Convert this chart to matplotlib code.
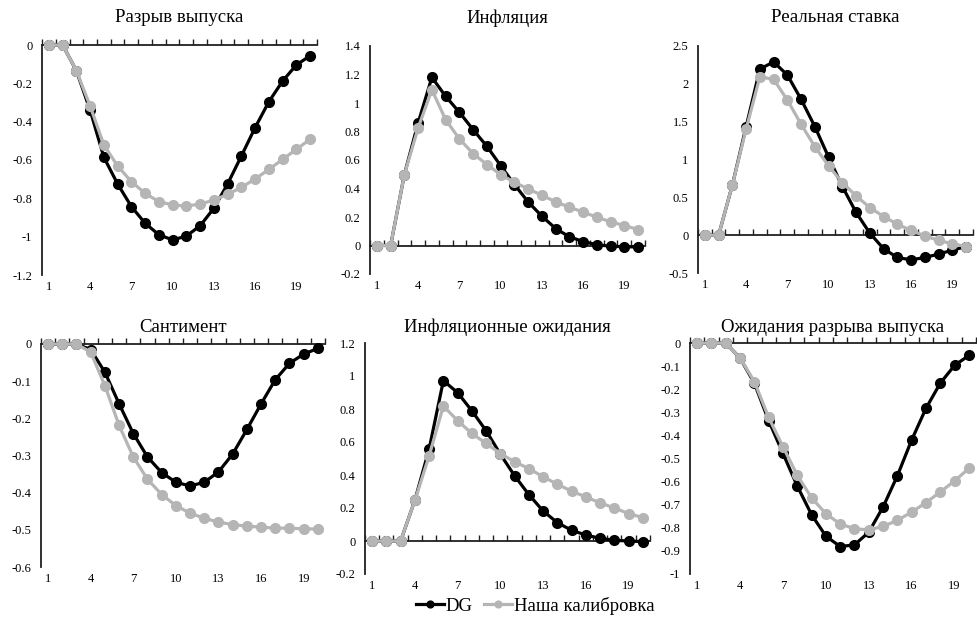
import matplotlib
matplotlib.use("Agg")
import matplotlib.pyplot as plt
import numpy as np

plt.rcParams['font.family'] = ['Liberation Serif', 'DejaVu Serif']

periods = list(range(1, 21))
x_labels = [1, 4, 7, 10, 13, 16, 19]

titles = ["Разрыв выпуска", "Инфляция", "Реальная ставка",
          "Сантимент", "Инфляционные ожидания", "Ожидания разрыва выпуска"]

dg_output_gap = [0, 0, -0.134, -0.34, -0.586, -0.725, -0.843, -0.93, -0.99, -1.017,
                 -0.997, -0.943, -0.852, -0.725, -0.579, -0.431, -0.296, -0.188, -0.104, -0.056]
our_output_gap = [0, 0, -0.134, -0.318, -0.522, -0.631, -0.713, -0.774, -0.817, -0.835,
                  -0.84, -0.83, -0.809, -0.779, -0.743, -0.699, -0.649, -0.597, -0.544, -0.492]

dg_inflation = [0, 0, 0.498, 0.86, 1.18, 1.047, 0.935, 0.813, 0.696, 0.561,
                0.428, 0.306, 0.206, 0.119, 0.061, 0.028, 0.005, -0.005, -0.009, -0.01]
our_inflation = [0, 0, 0.498, 0.825, 1.093, 0.883, 0.748, 0.645, 0.568, 0.498,
                 0.444, 0.397, 0.353, 0.306, 0.269, 0.234, 0.199, 0.166, 0.14, 0.112]

dg_real_rate = [0, 0, 0.664, 1.434, 2.195, 2.29, 2.116, 1.795, 1.434, 1.03,
                0.642, 0.3, 0.026, -0.18, -0.295, -0.326, -0.295, -0.25, -0.198, -0.15]
our_real_rate = [0, 0, 0.664, 1.403, 2.094, 2.059, 1.786, 1.465, 1.17, 0.915,
                 0.695, 0.519, 0.365, 0.246, 0.145, 0.062, -0.009, -0.07, -0.114, -0.15]

dg_sentiment = [0, 0, 0, -0.015, -0.076, -0.161, -0.241, -0.304, -0.346, -0.372,
                -0.382, -0.372, -0.344, -0.296, -0.23, -0.161, -0.096, -0.052, -0.027, -0.012]
our_sentiment = [0, 0, 0, -0.022, -0.112, -0.219, -0.304, -0.364, -0.405, -0.435,
                 -0.455, -0.469, -0.479, -0.486, -0.49, -0.493, -0.495, -0.496, -0.497, -0.498]

dg_infl_exp = [0, 0, 0, 0.247, 0.557, 0.972, 0.899, 0.789, 0.668, 0.526,
               0.395, 0.281, 0.182, 0.111, 0.065, 0.036, 0.016, 0.004, 0.0, -0.004]
our_infl_exp = [0, 0, 0, 0.247, 0.516, 0.818, 0.729, 0.652, 0.591, 0.53,
                0.48, 0.439, 0.389, 0.344, 0.302, 0.267, 0.231, 0.2, 0.166, 0.142]

dg_gap_exp = [0, 0, 0, -0.065, -0.174, -0.336, -0.478, -0.619, -0.743, -0.836,
              -0.881, -0.874, -0.819, -0.71, -0.575, -0.42, -0.283, -0.174, -0.097, -0.054]
our_gap_exp = [0, 0, 0, -0.065, -0.167, -0.322, -0.449, -0.572, -0.67, -0.739,
               -0.783, -0.804, -0.809, -0.794, -0.768, -0.732, -0.691, -0.645, -0.597, -0.543]

dg_series = [dg_output_gap, dg_inflation, dg_real_rate, dg_sentiment, dg_infl_exp, dg_gap_exp]
our_series = [our_output_gap, our_inflation, our_real_rate, our_sentiment, our_infl_exp, our_gap_exp]

y_ticks = [
    [0, -0.2, -0.4, -0.6, -0.8, -1.0, -1.2],
    [-0.2, 0, 0.2, 0.4, 0.6, 0.8, 1.0, 1.2, 1.4],
    [-0.5, 0, 0.5, 1.0, 1.5, 2.0, 2.5],
    [0, -0.1, -0.2, -0.3, -0.4, -0.5, -0.6],
    [-0.2, 0, 0.2, 0.4, 0.6, 0.8, 1.0, 1.2],
    [0, -0.1, -0.2, -0.3, -0.4, -0.5, -0.6, -0.7, -0.8, -0.9, -1.0],
]

labels = ["DG", "Наша калибровка"]
dg_color = "#000000"
our_color = "#b5b5b5"

W, H = 978, 621
fig = plt.figure(figsize=(W / 100, H / 100), dpi=100)

# pixel boxes: left, right, top, bottom
boxes = [
    (42, 317, 45, 275),
    (370, 645, 46, 274),
    (698, 973, 46, 273),
    (41, 325, 344, 567),
    (365, 650, 343, 574),
    (690, 976, 343, 574),
]
title_y = [18, 18, 18, 327, 327, 327]


def fmt(v):
    if abs(v) < 1e-9:
        return "0"
    s = ("%.1f" % v)
    if s.endswith(".0"):
        s = s[:-2]
    return s


handles = []
for i, (l, r, t, b) in enumerate(boxes):
    ax = fig.add_axes([l / W, 1 - b / H, (r - l) / W, (b - t) / H])
    yt = y_ticks[i]
    ax.set_ylim(min(yt), max(yt))
    ax.set_xlim(0.5, 20.5)
    h1, = ax.plot(periods, dg_series[i], color=dg_color, lw=2.3, marker='o', ms=7,
                  zorder=3, clip_on=False)
    h2, = ax.plot(periods, our_series[i], color=our_color, lw=2.3, marker='o', ms=7,
                  zorder=4, clip_on=False)
    if i == 0:
        handles = [h1, h2]
    for s in ['top', 'right']:
        ax.spines[s].set_visible(False)
    ax.spines['left'].set_color('#202020')
    ax.spines['left'].set_linewidth(1.3)
    ax.spines['bottom'].set_position(('data', 0))
    ax.spines['bottom'].set_color('#202020')
    ax.spines['bottom'].set_linewidth(1.3)
    ax.set_xticks(np.arange(0.5, 21, 1.0))
    ax.tick_params(axis='x', direction='in', length=4, width=1, color='#202020',
                   labelbottom=False)
    ax.set_yticks(yt)
    ax.set_yticklabels([fmt(v) for v in yt])
    ax.tick_params(axis='y', length=0, labelsize=9, pad=7)
    sec = ax.secondary_xaxis(0.0)
    sec.set_xticks(x_labels)
    sec.set_xticklabels([str(v) for v in x_labels])
    sec.tick_params(length=0, labelsize=9, pad=4)
    sec.spines['bottom'].set_visible(False)
    fig.text((l + r) / 2 / W, 1 - title_y[i] / H, titles[i], ha='center', va='center',
             fontsize=13.5)

fig.legend(handles, labels, loc='center', bbox_to_anchor=(535 / W, 1 - 606 / H), ncol=2,
           frameon=False, fontsize=13.5, handlelength=1.5, handletextpad=0.1,
           columnspacing=0.6, markerscale=0.7)

fig.savefig("out.png", dpi=100)
